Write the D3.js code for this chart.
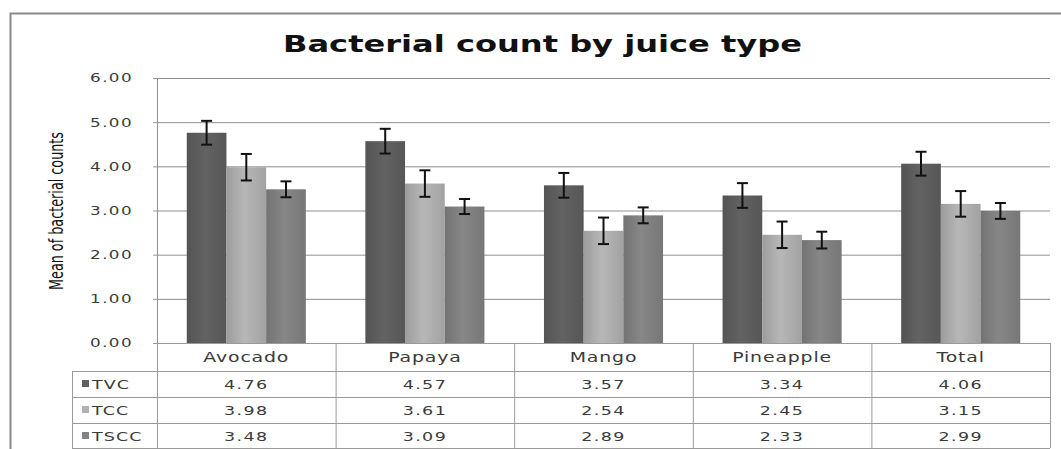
<!DOCTYPE html>
<html>
<head>
<meta charset="utf-8">
<script src="https://d3js.org/d3.v7.min.js"></script>
<style>
body {margin:0; background:#fff;}
svg text {font-family: "DejaVu Sans", Verdana, sans-serif;}
</style>
</head>
<body>
<svg width="1061" height="449"></svg>
<script>
// data
const categories = ['Avocado', 'Papaya', 'Mango', 'Pineapple', 'Total'];
const series = ['TVC', 'TCC', 'TSCC'];
const tvc = [4.76, 4.57, 3.57, 3.34, 4.06];
const tcc = [3.98, 3.61, 2.54, 2.45, 3.15];
const tscc = [3.48, 3.09, 2.89, 2.33, 2.99];
const tvcErr = [0.27, 0.28, 0.28, 0.28, 0.27];
const tccErr = [0.30, 0.30, 0.30, 0.30, 0.29];
const tsccErr = [0.18, 0.17, 0.18, 0.19, 0.18];
const yTicks = [0, 1, 2, 3, 4, 5, 6];

const seriesColors = ['#5f5f5f', '#b1b1b1', '#828282'];
const SX = 1.4; // the original picture is stretched sideways

const svg = d3.select('svg');
const plotLeft = 157, plotRight = 1050, plotTop = 78, base = 343;
const rows = [343, 371, 397, 423, 448];
const legendLeft = 72;

const x0 = d3.scaleBand().domain(categories).range([plotLeft, plotRight]);
const x1 = d3.scaleBand().domain(series).range([0, x0.bandwidth()]).paddingOuter(0.75);
const y = d3.scaleLinear().domain([0, 6]).range([base, plotTop]);

const values = [tvc, tcc, tscc];
const errs = [tvcErr, tccErr, tsccErr];

function sText(parent, x, yy, str, size, anchor) {
  return parent.append('text')
    .attr('transform', 'translate(' + x + ',' + yy + ') scale(' + SX + ',1)')
    .attr('text-anchor', anchor)
    .style('font-size', size + 'px')
    .attr('fill', '#3a3a3a')
    .text(str);
}

// outer frame
svg.append('rect').attr('x', 10.5).attr('y', 13.5).attr('width', 1100).attr('height', 500)
  .attr('fill', 'none').attr('stroke', '#8a8a8a').attr('stroke-width', 2);

// gradients for bars
const defs = svg.append('defs');
series.forEach((s, i) => {
  const g = defs.append('linearGradient').attr('id', 'grad' + s).attr('x1', 0).attr('x2', 1).attr('y1', 0).attr('y2', 0);
  const c = d3.color(seriesColors[i]);
  g.append('stop').attr('offset', '0%').attr('stop-color', c.darker(0.35));
  g.append('stop').attr('offset', '45%').attr('stop-color', c.brighter(0.1));
  g.append('stop').attr('offset', '100%').attr('stop-color', c.darker(0.25));
});

// gridlines
svg.append('g').selectAll('line').data(yTicks.slice(1)).join('line')
  .attr('x1', plotLeft).attr('x2', plotRight)
  .attr('y1', d => y(d) + 0.5).attr('y2', d => y(d) + 0.5)
  .attr('stroke', '#8f8f8f').attr('stroke-width', 1);

// axis
const ax = svg.append('g').attr('transform', 'translate(' + plotLeft + ',0)')
  .call(d3.axisLeft(y).tickValues(yTicks).tickFormat(d3.format('.2f')).tickSizeInner(4).tickSizeOuter(0));
ax.select('.domain').remove();
ax.selectAll('line').attr('stroke', '#999');
ax.selectAll('text')
  .attr('x', -24 / SX)
  .attr('transform', 'scale(' + SX + ',1)')
  .attr('fill', '#3a3a3a')
  .style('font-size', '12px')
  .style('letter-spacing', '1px')
  .style('font-family', '"DejaVu Sans", Verdana, sans-serif');

svg.append('line').attr('x1', plotLeft + 0.5).attr('x2', plotLeft + 0.5).attr('y1', plotTop).attr('y2', rows[4])
  .attr('stroke', '#8f8f8f');

// bars
series.forEach((s, si) => {
  const g = svg.append('g');
  g.selectAll('rect').data(categories).join('rect')
    .attr('x', c => x0(c) + x1(s))
    .attr('y', (c, i) => y(values[si][i]))
    .attr('width', x1.bandwidth())
    .attr('height', (c, i) => base - y(values[si][i]))
    .attr('fill', 'url(#grad' + s + ')');
});

// error bars
series.forEach((s, si) => {
  const g = svg.append('g').attr('stroke', '#111').attr('stroke-width', 2);
  categories.forEach((c, i) => {
    const cx = x0(c) + x1(s) + x1.bandwidth() / 2;
    const hi = y(values[si][i] + errs[si][i]);
    const lo = y(values[si][i] - errs[si][i]);
    g.append('line').attr('x1', cx).attr('x2', cx).attr('y1', hi).attr('y2', lo);
    g.append('line').attr('x1', cx - 5.5).attr('x2', cx + 5.5).attr('y1', hi).attr('y2', hi);
    g.append('line').attr('x1', cx - 5.5).attr('x2', cx + 5.5).attr('y1', lo).attr('y2', lo);
  });
});

// data table
const tbl = svg.append('g').attr('stroke', '#9a9a9a').attr('stroke-width', 1);
tbl.append('line').attr('x1', plotLeft).attr('x2', plotRight).attr('y1', rows[0] + 0.5).attr('y2', rows[0] + 0.5);
rows.slice(1).forEach(r => {
  tbl.append('line').attr('x1', legendLeft).attr('x2', plotRight).attr('y1', r + 0.5).attr('y2', r + 0.5);
});
categories.concat(['_end']).forEach((c, i) => {
  const xx = i < categories.length ? x0(c) : plotRight;
  tbl.append('line').attr('x1', xx + 0.5).attr('x2', xx + 0.5).attr('y1', rows[0]).attr('y2', rows[4]);
});
tbl.append('line').attr('x1', legendLeft + 0.5).attr('x2', legendLeft + 0.5).attr('y1', rows[1]).attr('y2', rows[4]);

const txt = svg.append('g');
categories.forEach(c => {
  sText(txt, x0(c) + x0.bandwidth() / 2, rows[0] + 19, c, 13.5, 'middle').style('letter-spacing', '0.6px');
});
series.forEach((s, si) => {
  const rTop = rows[si + 1];
  svg.append('rect').attr('x', 82).attr('y', rTop + 9).attr('width', 7).attr('height', 7)
    .attr('fill', seriesColors[si]);
  sText(txt, 92, rTop + 18, s, 12.5, 'start').style('letter-spacing', '0.8px');
  categories.forEach((c, i) => {
    sText(txt, x0(c) + x0.bandwidth() / 2, rTop + 18, d3.format('.2f')(values[si][i]), 12.5, 'middle')
      .style('letter-spacing', '1px');
  });
});

// axis title
svg.append('text')
  .attr('transform', 'translate(63,211) scale(' + SX + ',1) rotate(-90)')
  .attr('text-anchor', 'middle')
  .attr('textLength', 158)
  .attr('lengthAdjust', 'spacingAndGlyphs')
  .attr('fill', '#111')
  .style('font-size', '14.5px')
  .text('Mean of bacterial counts');

// chart title
svg.append('text')
  .attr('x', 283).attr('y', 52)
  .attr('textLength', 519)
  .attr('lengthAdjust', 'spacingAndGlyphs')
  .attr('fill', '#111')
  .style('font-size', '23px')
  .style('font-weight', 'bold')
  .text('Bacterial count by juice type');
</script>
</body>
</html>
